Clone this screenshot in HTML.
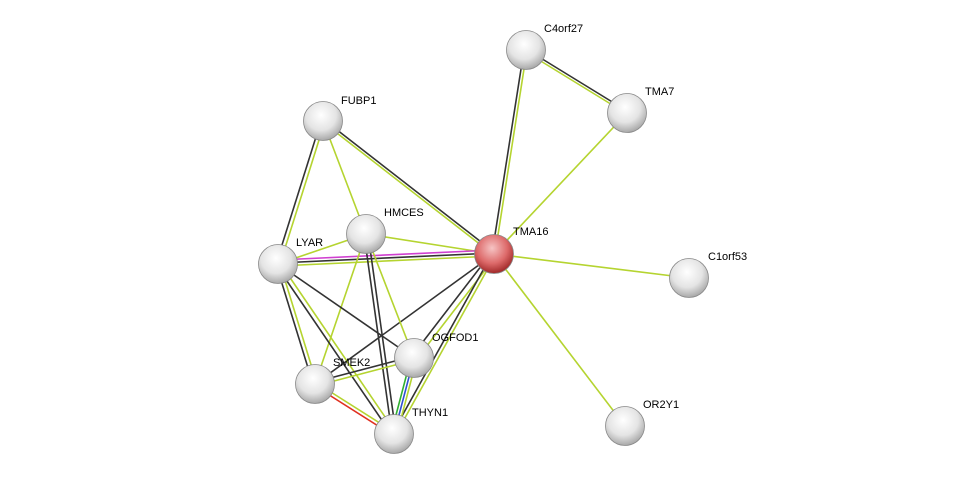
<!DOCTYPE html>
<html><head><meta charset="utf-8"><style>
html,body{margin:0;padding:0;background:#fff;}
svg{display:block;}
text{font-family:"Liberation Sans",sans-serif;font-size:11px;fill:#000;}
</style></head><body>
<svg width="975" height="479" viewBox="0 0 975 479" xmlns="http://www.w3.org/2000/svg">
<defs>
<radialGradient id="g" cx="45%" cy="35%" r="65%">
<stop offset="0" stop-color="#ffffff"/><stop offset="0.6" stop-color="#e4e4e4"/><stop offset="1" stop-color="#a8a8a8"/>
</radialGradient>
<radialGradient id="r" cx="45%" cy="35%" r="65%">
<stop offset="0" stop-color="#f6c4c4"/><stop offset="0.6" stop-color="#dd6a6a"/><stop offset="1" stop-color="#a02828"/>
</radialGradient>
</defs>
<g stroke-width="1.6" fill="none">
<!-- C4orf27-TMA7 -->
<line x1="526" y1="49" x2="627" y2="111" stroke="#333"/><line x1="526" y1="52" x2="627" y2="114" stroke="#b5d430"/>
<!-- C4orf27-TMA16 -->
<line x1="524" y1="50" x2="492" y2="254" stroke="#333"/><line x1="527" y1="50" x2="495" y2="254" stroke="#b5d430"/>
<line x1="627" y1="113" x2="494" y2="254" stroke="#b5d430"/>
<!-- FUBP1-TMA16 -->
<line x1="323" y1="119" x2="494" y2="252" stroke="#333"/><line x1="324" y1="123" x2="495" y2="256" stroke="#b5d430"/>
<!-- FUBP1-LYAR -->
<line x1="321" y1="121" x2="276" y2="264" stroke="#333"/><line x1="325" y1="121" x2="280" y2="264" stroke="#b5d430"/>
<line x1="323" y1="121" x2="366" y2="234" stroke="#b5d430"/>
<line x1="366" y1="234" x2="494" y2="254" stroke="#b5d430"/>
<!-- LYAR-TMA16 -->
<line x1="278" y1="260" x2="494" y2="250" stroke="#d040d0"/>
<line x1="278" y1="263" x2="494" y2="253" stroke="#333"/>
<line x1="278" y1="266" x2="494" y2="256" stroke="#b5d430"/>
<line x1="278" y1="264" x2="366" y2="234" stroke="#b5d430"/>
<line x1="494" y1="254" x2="689" y2="278" stroke="#b5d430"/>
<line x1="494" y1="254" x2="625" y2="426" stroke="#b5d430"/>
<!-- TMA16-OGFOD1 -->
<line x1="492" y1="252" x2="412" y2="356" stroke="#333"/><line x1="496" y1="256" x2="416" y2="360" stroke="#b5d430"/>
<line x1="494" y1="254" x2="315" y2="384" stroke="#333"/>
<!-- TMA16-THYN1 -->
<line x1="492" y1="254" x2="392" y2="434" stroke="#333"/><line x1="496" y1="254" x2="396" y2="434" stroke="#b5d430"/>
<line x1="366" y1="234" x2="414" y2="358" stroke="#b5d430"/>
<line x1="364" y1="234" x2="392" y2="434" stroke="#333"/><line x1="368" y1="234" x2="396" y2="434" stroke="#333"/>
<line x1="366" y1="234" x2="315" y2="384" stroke="#b5d430"/>
<line x1="278" y1="264" x2="414" y2="358" stroke="#333"/>
<line x1="276" y1="264" x2="313" y2="384" stroke="#333"/><line x1="280" y1="264" x2="317" y2="384" stroke="#b5d430"/>
<line x1="276" y1="265" x2="392" y2="435" stroke="#333"/><line x1="280" y1="263" x2="396" y2="433" stroke="#b5d430"/>
<line x1="315" y1="382" x2="414" y2="356" stroke="#333"/><line x1="315" y1="386" x2="414" y2="360" stroke="#b5d430"/>
<line x1="411" y1="358" x2="391" y2="434" stroke="#30b030"/><line x1="414" y1="358" x2="394" y2="434" stroke="#3050d0"/><line x1="417" y1="358" x2="397" y2="434" stroke="#b5d430"/>
<line x1="315" y1="382" x2="394" y2="432" stroke="#b5d430"/><line x1="315" y1="386" x2="394" y2="436" stroke="#e03020"/>
</g>
<g stroke="#888" stroke-width="0.8">
<circle cx="526" cy="50" r="19.5" fill="url(#g)"/>
<circle cx="627" cy="113" r="19.5" fill="url(#g)"/>
<circle cx="323" cy="121" r="19.5" fill="url(#g)"/>
<circle cx="366" cy="234" r="19.5" fill="url(#g)"/>
<circle cx="494" cy="254" r="19.5" fill="url(#r)"/>
<circle cx="278" cy="264" r="19.5" fill="url(#g)"/>
<circle cx="689" cy="278" r="19.5" fill="url(#g)"/>
<circle cx="414" cy="358" r="19.5" fill="url(#g)"/>
<circle cx="315" cy="384" r="19.5" fill="url(#g)"/>
<circle cx="394" cy="434" r="19.5" fill="url(#g)"/>
<circle cx="625" cy="426" r="19.5" fill="url(#g)"/>
</g>
<text x="544" y="32">C4orf27</text>
<text x="645" y="95">TMA7</text>
<text x="341" y="104">FUBP1</text>
<text x="384" y="216">HMCES</text>
<text x="513" y="235">TMA16</text>
<text x="296" y="246">LYAR</text>
<text x="708" y="260">C1orf53</text>
<text x="432" y="341">OGFOD1</text>
<text x="333" y="366">SMEK2</text>
<text x="412" y="416">THYN1</text>
<text x="643" y="408">OR2Y1</text>
</svg>
</body></html>
